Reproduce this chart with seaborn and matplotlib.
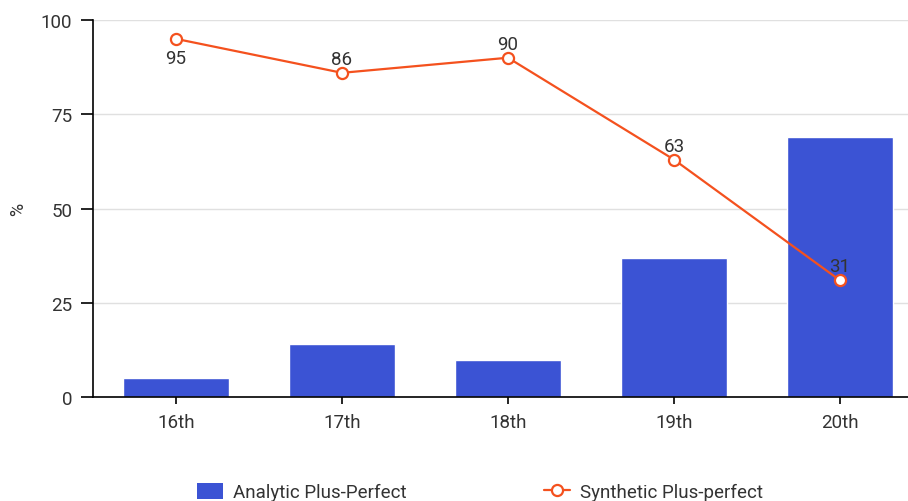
import matplotlib
matplotlib.use("Agg")
import matplotlib.pyplot as plt
import seaborn as sns
import pandas as pd
from matplotlib.patches import Patch
from matplotlib.lines import Line2D

# Century categories and the two series (%)
centuries = ["16th", "17th", "18th", "19th", "20th"]
analytic_plus_perfect = [5, 14, 10, 37, 69]
synthetic_plus_perfect = [95, 86, 90, 63, 31]
y_ticks = [0, 25, 50, 75, 100]

BAR_COLOR = "#3b53d4"
LINE_COLOR = "#f4511e"
TEXT_COLOR = "#333333"

sns.set_theme(style="white")
plt.rcParams["font.family"] = ["Roboto", "DejaVu Sans"]

df = pd.DataFrame({"century": centuries,
                   "analytic": analytic_plus_perfect,
                   "synthetic": synthetic_plus_perfect})

fig = plt.figure(figsize=(9.08, 5.02), dpi=100)
ax = fig.add_axes([93 / 908, (502 - 398.3) / 502, 1 - 93 / 908, 377.3 / 502])

sns.barplot(data=df, x="century", y="analytic", color=BAR_COLOR,
            saturation=1, width=0.64, ax=ax, zorder=2)

xs = range(len(centuries))
ax.plot(xs, df["synthetic"], color=LINE_COLOR, lw=1.6, marker="o",
        markersize=8, markerfacecolor="white", markeredgecolor=LINE_COLOR,
        markeredgewidth=1.6, zorder=4)

for i, v in enumerate(df["synthetic"]):
    dy = -13.5 if i == 0 else 10
    ax.annotate(str(v), (i, v), xytext=(0, dy), textcoords="offset points",
                ha="center", va="center", fontsize=13.5, color=TEXT_COLOR,
                zorder=5)

ax.set_ylim(0, 100)
ax.set_xlim(-0.5, 4.41)
ax.set_yticks(y_ticks)
ax.set_xlabel("")
ax.set_ylabel("%", fontsize=13, color=TEXT_COLOR)
ax.yaxis.set_label_coords(-66 / 815, 0.5)
ax.grid(axis="y", color="#e0e0e0", lw=1, zorder=0)
ax.set_axisbelow(True)

for s in ["top", "right"]:
    ax.spines[s].set_visible(False)
for s in ["left", "bottom"]:
    ax.spines[s].set_color("black")
    ax.spines[s].set_linewidth(1.2)

ax.tick_params(axis="y", length=9, width=1.2, color="black", pad=6,
               labelsize=13.5, labelcolor=TEXT_COLOR, left=True)
ax.tick_params(axis="x", length=5, width=1.2, color="black", pad=6,
               labelsize=13.5, labelcolor=TEXT_COLOR, bottom=True)

handles = [
    Patch(facecolor=BAR_COLOR, edgecolor="none", label="Analytic Plus-Perfect"),
    Line2D([], [], color=LINE_COLOR, lw=1.6, marker="o", markersize=8,
           markerfacecolor="white", markeredgecolor=LINE_COLOR,
           markeredgewidth=1.6, label="Synthetic Plus-perfect"),
]
leg = fig.legend(handles=handles, loc="center", ncol=2, frameon=False,
                 bbox_to_anchor=(480 / 908, 1 - 493 / 502), fontsize=13.5,
                 handlelength=1.4, handleheight=0.95, handletextpad=0.55,
                 columnspacing=7.3)
for t in leg.get_texts():
    t.set_color(TEXT_COLOR)

fig.savefig("out.png", dpi=100)
